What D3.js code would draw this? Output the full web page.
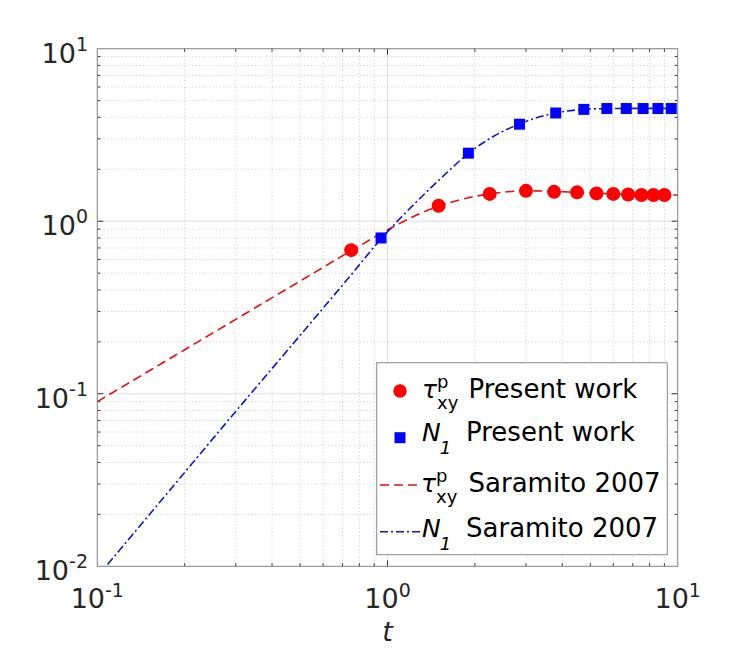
<!DOCTYPE html>
<html>
<head>
<meta charset="utf-8">
<script src="https://cdn.jsdelivr.net/npm/d3@7"></script>
<style>
  body { margin: 0; background: #fff; }
  svg { font-family: "DejaVu Sans", sans-serif; }
</style>
</head>
<body>
<svg id="chart"></svg>
<script>
// present work markers
var tauT = [0.75, 1.5, 2.25, 3.0, 3.75, 4.5, 5.25, 6.0, 6.75, 7.5, 8.25, 9.0];
var tauV = [0.68, 1.23, 1.44, 1.50, 1.48, 1.47, 1.45, 1.44, 1.43, 1.42, 1.42, 1.42];
var n1T = [0.95, 1.9, 2.85, 3.8, 4.75, 5.7, 6.65, 7.6, 8.55, 9.5];
var n1V = [0.80, 2.48, 3.65, 4.24, 4.45, 4.50, 4.50, 4.50, 4.50, 4.50];

// Saramito 2007 curves
var sarTauT = [0.1, 0.2, 0.3, 0.5, 0.75, 1.0, 1.25, 1.5, 1.8, 2.25, 3.0, 3.75, 4.5, 6.0, 7.5, 10];
var sarTauV = [0.09, 0.18, 0.27, 0.45, 0.675, 0.89, 1.08, 1.22, 1.34, 1.44, 1.50, 1.49, 1.47, 1.44, 1.425, 1.42];
var sarN1T = [0.1, 0.2, 0.3, 0.5, 0.75, 0.95, 1.1, 1.33, 1.52, 1.9, 2.3, 2.85, 3.3, 3.8, 4.75, 6.0, 8.0, 10];
var sarN1V = [0.0087, 0.035, 0.079, 0.218, 0.49, 0.79, 1.03, 1.42, 1.76, 2.47, 3.08, 3.66, 4.0, 4.24, 4.45, 4.5, 4.51, 4.51];

// tick exponents
var xExp = [-1, 0, 1];
var yExp = [-2, -1, 0, 1];

var width = 750;
var height = 650;
var margin = { top: 48.7, right: 72.3, bottom: 83.7, left: 97.3 };
var w = width - margin.left - margin.right;
var h = height - margin.top - margin.bottom;

var svg = d3.select("#chart")
  .attr("width", width)
  .attr("height", height);

var g = svg.append("g")
  .attr("transform", `translate(${margin.left},${margin.top})`);

var x = d3.scaleLog().domain([0.1, 10]).range([0, w]);
var y = d3.scaleLog().domain([0.01, 10]).range([h, 0]);

// minor values 2..9 in every decade
var xMinor = [], yMinor = [];
[-1, 0].forEach(e => { for (var k = 2; k <= 9; k++) xMinor.push(k * Math.pow(10, e)); });
[-2, -1, 0].forEach(e => { for (var k = 2; k <= 9; k++) yMinor.push(k * Math.pow(10, e)); });
var xMajor = xExp.map(e => Math.pow(10, e));
var yMajor = yExp.map(e => Math.pow(10, e));

// grid
var grid = g.append("g");
grid.selectAll(".xminor").data(xMinor).enter().append("line")
  .attr("x1", d => x(d)).attr("x2", d => x(d))
  .attr("y1", 0).attr("y2", h)
  .attr("stroke", "#c8c8c8").attr("stroke-width", 1)
  .attr("stroke-dasharray", "1,2.5");
grid.selectAll(".yminor").data(yMinor).enter().append("line")
  .attr("x1", 0).attr("x2", w)
  .attr("y1", d => y(d)).attr("y2", d => y(d))
  .attr("stroke", "#c8c8c8").attr("stroke-width", 1)
  .attr("stroke-dasharray", "1,2.5");
grid.selectAll(".xmajor").data(xMajor).enter().append("line")
  .attr("x1", d => x(d)).attr("x2", d => x(d))
  .attr("y1", 0).attr("y2", h)
  .attr("stroke", "#dedede").attr("stroke-width", 1);
grid.selectAll(".ymajor").data(yMajor).enter().append("line")
  .attr("x1", 0).attr("x2", w)
  .attr("y1", d => y(d)).attr("y2", d => y(d))
  .attr("stroke", "#dedede").attr("stroke-width", 1);

// ticks on all four sides, pointing in
function ticks(vals, len, horizontal) {
  var t = g.append("g").attr("stroke", "#333").attr("stroke-width", 1);
  vals.forEach(v => {
    if (horizontal) {
      t.append("line").attr("x1", x(v)).attr("x2", x(v)).attr("y1", h).attr("y2", h - len);
      t.append("line").attr("x1", x(v)).attr("x2", x(v)).attr("y1", 0).attr("y2", len);
    } else {
      t.append("line").attr("x1", 0).attr("x2", len).attr("y1", y(v)).attr("y2", y(v));
      t.append("line").attr("x1", w).attr("x2", w - len).attr("y1", y(v)).attr("y2", y(v));
    }
  });
}
ticks(xMinor, 3, true);
ticks(xMajor.slice(1, -1), 6, true);
ticks(yMinor, 3, false);
ticks(yMajor.slice(1, -1), 6, false);

// frame
g.append("rect")
  .attr("width", w).attr("height", h)
  .attr("fill", "none").attr("stroke", "#8a8a8a").attr("stroke-width", 1);

// tick labels 10^n
var lab = svg.append("g").attr("fill", "#262626");
xExp.forEach(e => {
  var t = lab.append("text")
    .attr("x", margin.left + x(Math.pow(10, e)))
    .attr("y", 608)
    .attr("text-anchor", "middle")
    .attr("font-size", "27px");
  t.append("tspan").text("10");
  t.append("tspan").attr("font-size", "19px").attr("dy", -11).text(e < 0 ? "-" + (-e) : e);
});
yExp.forEach(e => {
  var t = lab.append("text")
    .attr("x", 88)
    .attr("y", margin.top + y(Math.pow(10, e)) + 14)
    .attr("text-anchor", "end")
    .attr("font-size", "27px");
  t.append("tspan").text("10");
  t.append("tspan").attr("font-size", "19px").attr("dy", -12).text(e < 0 ? "-" + (-e) : e);
});

// axis title
svg.append("text")
  .attr("x", margin.left + w / 2)
  .attr("y", 641)
  .attr("text-anchor", "middle")
  .attr("font-size", "27px")
  .attr("font-style", "italic")
  .attr("fill", "#262626")
  .text("t");

// curves
svg.append("defs").append("clipPath").attr("id", "clip")
  .append("rect").attr("width", w).attr("height", h);

var plot = g.append("g").attr("clip-path", "url(#clip)");

var line = d3.line()
  .x(d => x(d[0]))
  .y(d => y(d[1]))
  .curve(d3.curveMonotoneX);

plot.append("path")
  .attr("d", line(d3.zip(sarTauT, sarTauV)))
  .attr("fill", "none")
  .attr("stroke", "#e01010")
  .attr("stroke-width", 1.6)
  .attr("stroke-dasharray", "9,5");

plot.append("path")
  .attr("d", line(d3.zip(sarN1T, sarN1V)))
  .attr("fill", "none")
  .attr("stroke", "#1414c8")
  .attr("stroke-width", 1.6)
  .attr("stroke-dasharray", "8,3,2,3");

// markers
plot.selectAll(".sq").data(d3.zip(n1T, n1V)).enter().append("rect")
  .attr("x", d => x(d[0]) - 5.5)
  .attr("y", d => y(d[1]) - 5.5)
  .attr("width", 11).attr("height", 11)
  .attr("fill", "#0000ff");

plot.selectAll(".ci").data(d3.zip(tauT, tauV)).enter().append("circle")
  .attr("cx", d => x(d[0]))
  .attr("cy", d => y(d[1]))
  .attr("r", 7)
  .attr("fill", "#ff0000");

// legend
var leg = svg.append("g");
leg.append("rect")
  .attr("x", 376.7).attr("y", 362.7)
  .attr("width", 290.6).attr("height", 192)
  .attr("fill", "#fff").attr("stroke", "#8a8a8a").attr("stroke-width", 1);

function tauLabel(x0, base, rest) {
  var t = leg.append("text").attr("x", x0).attr("y", base)
    .attr("font-size", "25px").attr("font-style", "italic").attr("fill", "#000").text("τ");
  var tw = t.node().getComputedTextLength();
  leg.append("text").attr("x", x0 + tw).attr("y", base - 10)
    .attr("font-size", "18px").attr("fill", "#000").text("p");
  leg.append("text").attr("x", x0 + tw).attr("y", base + 11)
    .attr("font-size", "18px").attr("fill", "#000").text("xy");
  leg.append("text").attr("x", 468.5).attr("y", base)
    .attr("font-size", "26px").attr("fill", "#000").text(rest);
}
function nLabel(x0, base, rest) {
  var t = leg.append("text").attr("x", x0).attr("y", base)
    .attr("font-size", "25px").attr("font-style", "italic").attr("fill", "#000").text("N");
  var tw = t.node().getComputedTextLength();
  leg.append("text").attr("x", x0 + tw - 1).attr("y", base + 13)
    .attr("font-size", "18px").attr("font-style", "italic").attr("fill", "#000").text("1");
  leg.append("text").attr("x", 466).attr("y", base)
    .attr("font-size", "26px").attr("fill", "#000").text(rest);
}

leg.append("circle").attr("cx", 400).attr("cy", 391).attr("r", 6.7).attr("fill", "#ff0000");
tauLabel(422, 398, "Present work");

leg.append("rect").attr("x", 394.5).attr("y", 432.2).attr("width", 11).attr("height", 11).attr("fill", "#0000ff");
nLabel(422, 441, "Present work");

leg.append("line").attr("x1", 380).attr("x2", 420).attr("y1", 485).attr("y2", 485)
  .attr("stroke", "#e01010").attr("stroke-width", 1.6).attr("stroke-dasharray", "9,5");
tauLabel(421, 492, "Saramito 2007");

leg.append("line").attr("x1", 380).attr("x2", 420).attr("y1", 531.7).attr("y2", 531.7)
  .attr("stroke", "#1414c8").attr("stroke-width", 1.6).attr("stroke-dasharray", "8,3,2,3");
nLabel(422, 537, "Saramito 2007");
</script>
</body>
</html>
